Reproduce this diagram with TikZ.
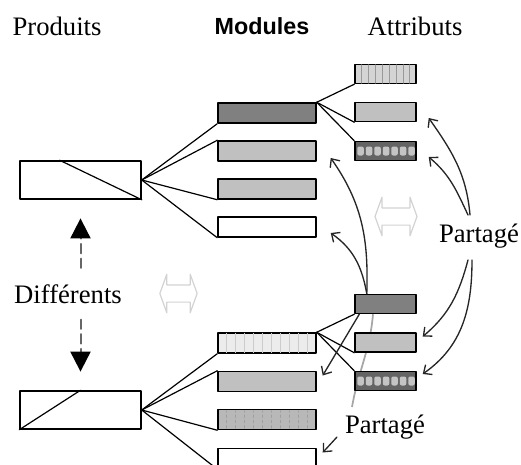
\documentclass[tikz,border=0pt]{standalone}
\usepackage{fontspec}
\setmainfont{Liberation Serif}
\setsansfont{Liberation Sans}
\usepackage{xcolor}
\usepackage{tikz}
\usetikzlibrary{calc,arrows.meta,shapes.arrows,backgrounds}

\definecolor{modDark}{RGB}{128,128,128}
\definecolor{modLight}{RGB}{192,192,192}
\definecolor{modPale}{RGB}{236,236,236}
\definecolor{modMid}{RGB}{184,184,184}
\definecolor{attStripe}{RGB}{212,212,212}
\definecolor{attDark}{RGB}{100,100,100}
\definecolor{cellGray}{RGB}{196,196,196}

\begin{document}
\begin{tikzpicture}[
		x=0.75pt,y=-0.75pt,
		line cap=round,line join=round,
		prodbox/.style={draw=black,line width=1.1pt,fill=white,minimum width=90.75pt,minimum height=28.5pt,inner sep=0pt},
		modbox/.style={draw=black,line width=1.1pt,minimum width=73.5pt,minimum height=15pt,inner sep=0pt},
		attbox/.style={draw=black,line width=1.1pt,minimum width=45.75pt,minimum height=14.25pt,inner sep=0pt},
		link/.style={black,line width=0.9pt},
		share/.style={black!85,line width=1pt,-{Straight Barb[length=5pt,width=9pt,line width=1pt]}},
		diffarrow/.style={black!60,dash pattern=on 7pt off 4pt,line width=1.5pt,-{Triangle[length=15pt,width=15pt,black]}},
		swap/.style={double arrow,draw=gray!35,line width=0.9pt,minimum height=28pt,minimum width=28pt,inner sep=0pt,inner ysep=6pt,double arrow head extend=8pt,double arrow tip angle=140},
		title/.style={font=\fontsize{20}{24}\selectfont,inner sep=0pt,anchor=base}
	]
	% ---- parameters
	\def\modX{267}     % centre of module column
	\def\attX{385.5}   % centre of attribute column
	\def\prodX{80.5}   % centre of product column
	
	\useasboundingbox (0,0) rectangle (521,464);
	
	% headings
	\node[title] (prod) at (57,35) {Produits};
	\node[title,font=\sffamily\bfseries\fontsize{17.5}{20}\selectfont] (mod) at (262,34) {Modules};
	\node[title] (attr) at (415,35) {Attributs};
	
	% products
	\node[prodbox] (p1) at (\prodX,180) {};
	\node[prodbox] (p2) at (\prodX,410) {};
	\draw[link] ($(p1.north west)!0.33!(p1.north east)$) -- (p1.south east);
	\draw[link] (p2.south west) -- ($(p2.north west)!0.5!(p2.north east)$);
	
	% modules
	\foreach \i/\yc/\fc in {1/113/modDark,2/151/modLight,3/189/modLight,4/227/white,
		5/343/modPale,6/381.5/modLight,7/419.5/modMid,8/458.5/white}{
		\node[modbox,fill=\fc] (m\i) at (\modX,\yc) {};
	}
	
	% attributes
	\foreach \i/\yc/\fc in {1/74/attStripe,2/112/modLight,3/151/attDark,
		4/304/modDark,5/342.5/modLight,6/381/attDark}{
		\node[attbox,fill=\fc] (a\i) at (\attX,\yc) {};
	}
	
	% fill textures
	\foreach \k in {1,...,10}{
		\draw[gray!40,line width=0.5pt,shorten <=0.7pt,shorten >=0.7pt]
		($(m5.south west)!\k/11!(m5.south east)$) -- ($(m5.north west)!\k/11!(m5.north east)$);
		\draw[gray!75,line width=0.5pt,dash pattern=on 2pt off 2pt,shorten <=1.5pt,shorten >=1.5pt]
		($(m7.south west)!\k/11!(m7.south east)$) -- ($(m7.north west)!\k/11!(m7.north east)$);
	}
	\foreach \k in {1,...,8}{
		\draw[gray!80,line width=0.5pt,shorten <=0.7pt,shorten >=0.7pt]
		($(a1.south west)!\k/9!(a1.south east)$) -- ($(a1.north west)!\k/9!(a1.north east)$);
	}
	\foreach \b in {a3,a6}{
		\foreach \k in {0,...,6}{
			\fill[cellGray,rounded corners=1.5pt] ($(\b.west)+(3,-4.5)$) ++(\k*8.5,0) rectangle ++(6.5,9);
		}
	}
	
	% product -> modules
	\foreach \j/\an in {1/south west,2/north west,3/south west,4/south west}{
		\draw[link] (p1.east) -- (m\j.\an);
	}
	\foreach \j/\an in {5/south west,6/north west,7/south west,8/south west}{
		\draw[link] (p2.east) -- (m\j.\an);
	}
	
	% module -> attributes
	\foreach \j/\an in {1/south west,2/south west,3/north west}{
		\draw[link] (m1.north east) -- (a\j.\an);
	}
	\foreach \j/\an in {4/south west,5/south west,6/north west}{
		\draw[link] (m5.north east) -- (a\j.\an);
	}
	
	% labels
	\node[title] (diff) at (68,303) {Différents};
	\node[title] (shr) at (479,242) {Partagé};
	\node[title] (shb) at (385,433) {Partagé};
	
	% different
	\draw[diffarrow,shorten <=5pt,shorten >=14pt] ([yshift=7pt]diff.north -| p1.south) -- (p1.south);
	\draw[diffarrow,shorten <=5pt,shorten >=14pt] ([yshift=-7pt]diff.south -| p2.north) -- (p2.north);
	
	% equivalence marks
	\node[swap] (sw1) at (178.5,293.5) {};
	\node[swap,minimum height=31.5pt] (sw2) at (396,216.5) {};
	
	% shared
	\begin{scope}[on background layer]
		\draw[gray!70,line width=1.3pt] ([shift={(-33,-26)}]shb.base) to[out=80,in=-95] ($(a4.south west)!0.3!(a4.south east)$);
	\end{scope}
	\draw[share] ($(a4.north west)!0.2!(a4.north east)$) to[out=88,in=-55] ([shift={(14,7)}]m2.east);
	\draw[share] ($(a4.north west)!0.2!(a4.north east)$) to[out=100,in=-35] ([shift={(14,6)}]m4.east);
	\draw[share] ([shift={(5,0)}]a4.south west) -- ([shift={(6,-6)}]m6.east);
	\draw[share] ([shift={(-48,4)}]shb.base) -- ([shift={(6,-6)}]m8.east);
	
	\draw[share] ([shift={(-9,-27)}]shr.base) to[out=95,in=-55] ([shift={(12,6)}]a2.east);
	\draw[share] ([shift={(-11,-27)}]shr.base) to[out=115,in=-40] ([shift={(12,6)}]a3.east);
	\draw[share] ([shift={(-11,18)}]shr.base) to[out=-105,in=40] ([shift={(6,-6)}]a5.east);
	\draw[share] ([shift={(-7,18)}]shr.base) to[out=-90,in=35] ([shift={(6,-7)}]a6.east);
\end{tikzpicture}
\end{document}
